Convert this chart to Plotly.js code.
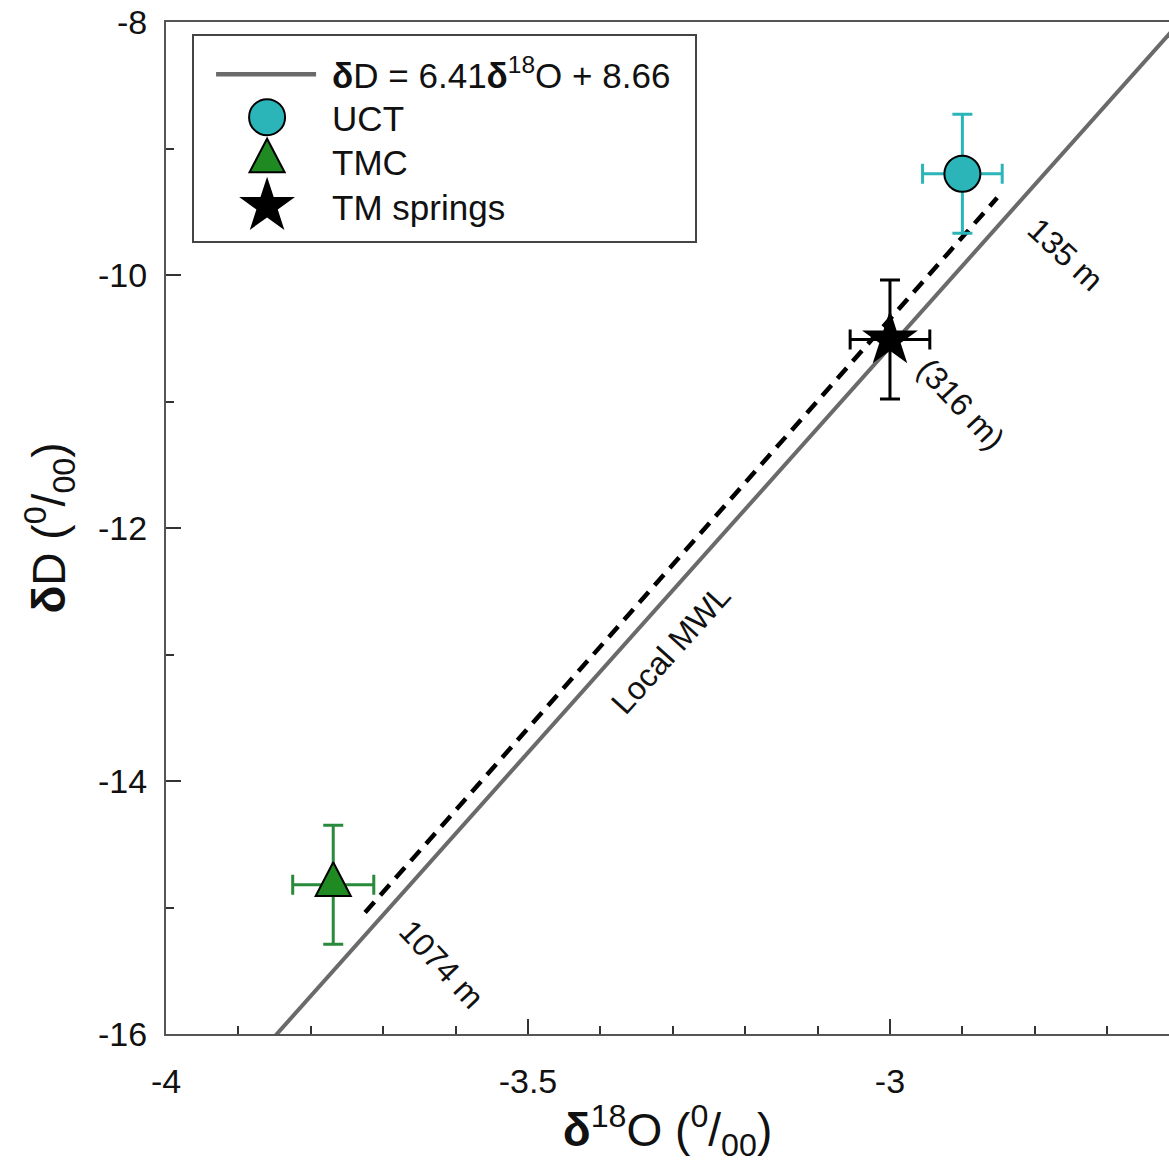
<!DOCTYPE html>
<html>
<head>
<meta charset="utf-8">
<script src="https://cdn.plot.ly/plotly-3.0.1.min.js"></script>
<style>
  html, body { margin: 0; padding: 0; background: #ffffff; }
  #chart { width: 1169px; height: 1163px; }
</style>
</head>
<body>
<div id="chart"></div>
<script>
// ---- data ----
const mwlX = [-3.85, -2.59];                 // local meteoric water line endpoints
const mwlY = [-16.02, -7.94];
const dashX = [-3.725, -2.852];              // dashed line
const dashY = [-15.04, -9.39];

const sampleNames = ['UCT', 'TMC', 'TM springs'];
const sampleX = [-2.9, -3.769, -3.0];
const sampleY = [-9.2, -14.82, -10.51];
const sampleXErr = [0.055, 0.056, 0.055];
const sampleYErr = [0.47, 0.47, 0.47];

const labelText = ['135 m', '(316 m)', '1074 m', 'Local MWL'];
const labelX = [-2.757, -2.902, -3.62, -3.302];
const labelY = [-9.84, -11.02, -15.45, -12.96];
const labelAngle = [43, 47, 47, -48];

const xTickVals = [-4, -3.5, -3];
const xTickText = ['-4', '-3.5', '-3'];
const yTickVals = [-16, -14, -12, -10, -8];
const yTickText = ['-16', '-14', '-12', '-10', '-8'];

const FONT = 'Liberation Sans, Arial, Helvetica, sans-serif';

const sampleStyle = [
  {symbol: 'circle', fill: '#2bb5b9', err: '#2bb5b9', size: 36},
  {symbol: 'triangle-up', fill: '#1f8a22', err: '#2a8a3c', size: 32},
  {symbol: 'star', fill: '#000000', err: '#000000', size: 42}
];

const traces = [];
traces.push({
  x: dashX, y: dashY, mode: 'lines', showlegend: false, hoverinfo: 'skip',
  line: {color: '#000000', width: 4.5, dash: '14px,9px'}
});
traces.push({
  x: mwlX, y: mwlY, mode: 'lines',
  name: '<b>δ</b>D = 6.41<b>δ</b><sup>18</sup>O + 8.66',
  line: {color: '#6a6a6a', width: 4}
});
for (let i = 0; i < sampleNames.length; i++) {
  const s = sampleStyle[i];
  traces.push({
    x: [sampleX[i]], y: [sampleY[i]], mode: 'markers', name: sampleNames[i],
    marker: {symbol: s.symbol, size: s.size, color: s.fill,
             line: {color: '#000000', width: i === 2 ? 0 : 2}},
    error_x: {type: 'data', array: [sampleXErr[i]], color: s.err, thickness: 3, width: 10},
    error_y: {type: 'data', array: [sampleYErr[i]], color: s.err, thickness: 3, width: 10}
  });
}

const annotations = labelText.map((t, i) => ({
  x: labelX[i], y: labelY[i], xref: 'x', yref: 'y', text: t, showarrow: false,
  textangle: labelAngle[i], font: {family: FONT, size: 32, color: '#111111'}
}));

const layout = {
  width: 1169, height: 1163,
  margin: {l: 166, r: 0, t: 22, b: 129},
  paper_bgcolor: '#ffffff', plot_bgcolor: '#ffffff',
  font: {family: FONT, color: '#111111'},
  showlegend: true,
  legend: {
    x: 0.026, y: 0.988, xanchor: 'left', yanchor: 'top',
    bgcolor: '#ffffff', bordercolor: '#444444', borderwidth: 2,
    font: {family: FONT, size: 35, color: '#111111'},
    itemwidth: 100, tracegroupgap: 0
  },
  xaxis: {
    range: [-4, -2.6146], tickmode: 'array', tickvals: xTickVals, ticktext: xTickText,
    ticks: 'inside', ticklen: 15, tickwidth: 2, tickcolor: '#333333',
    minor: {dtick: 0.1, tick0: -4, ticks: 'inside', ticklen: 8, tickwidth: 2, tickcolor: '#333333'},
    showgrid: false, zeroline: false, showline: true, linecolor: '#555555', linewidth: 2,
    mirror: true, automargin: false, ticklabelstandoff: 16,
    tickfont: {family: FONT, size: 34, color: '#111111'},
    title: {text: '<b>δ</b><sup>18</sup>O (<sup>0</sup>/<sub>00</sub>)', standoff: 16,
            font: {family: FONT, size: 46, color: '#111111'}}
  },
  yaxis: {
    range: [-16, -8], tickmode: 'array', tickvals: yTickVals, ticktext: yTickText,
    ticks: 'inside', ticklen: 15, tickwidth: 2, tickcolor: '#333333',
    minor: {dtick: 1, tick0: -16, ticks: 'inside', ticklen: 8, tickwidth: 2, tickcolor: '#333333'},
    showgrid: false, zeroline: false, showline: true, linecolor: '#555555', linewidth: 2,
    automargin: false, ticklabelstandoff: 10,
    tickfont: {family: FONT, size: 34, color: '#111111'},
    title: {text: '<b>δ</b>D (<sup>0</sup>/<sub>00</sub>)', standoff: 18,
            font: {family: FONT, size: 46, color: '#111111'}}
  },
  annotations: annotations
};

// legend layout tweaks (row offsets inside the legend box, in px)
const LEG_ROWS = [40, 83, 127, 172];
const LEG_W = 503, LEG_H = 207;

function parseTranslate(str) {
  const m = /translate\(\s*([-\d.eE]+)[ ,]+([-\d.eE]+)\s*\)/.exec(str || '');
  return m ? [parseFloat(m[1]), parseFloat(m[2])] : [0, 0];
}

Plotly.newPlot('chart', traces, layout, {staticPlot: true}).then(gd => {
  const leg = gd.querySelector('.legend');
  if (leg) {
    const items = leg.querySelectorAll('g.traces');
    const scales = [1, 36 / 16, 32 / 16, 42 / 16];
    items.forEach((g, i) => {
      const t = parseTranslate(g.getAttribute('transform'));
      if (LEG_ROWS[i] !== undefined) g.setAttribute('transform', 'translate(' + t[0] + ',' + LEG_ROWS[i] + ')');
      const lp = g.querySelector('.legendpoints');
      if (lp) lp.setAttribute('transform', 'translate(18,0)');
      const ll = g.querySelector('.legendlines');
      if (ll) ll.setAttribute('transform', 'translate(17,0)');
      g.querySelectorAll('.legendlines path').forEach(p => { p.style.strokeWidth = '4.5px'; });
      const tx = g.querySelector('text.legendtext');
      if (tx) tx.setAttribute('transform', 'translate(28,0)');
      g.querySelectorAll('path.scatterpts').forEach(p => {
        const tr = p.getAttribute('transform') || '';
        const sc = scales[i] || 2;
        const sy = (i === 2) ? sc * 1.4 : sc;
        const sx = (i === 2) ? sc * 0.95 : sc;
        p.setAttribute('transform', tr + ' scale(' + sx + ',' + sy + ')');
        p.setAttribute('vector-effect', 'non-scaling-stroke');
        p.style.vectorEffect = 'non-scaling-stroke';
      });
    });
    const bg = leg.querySelector('rect.bg');
    if (bg) { bg.setAttribute('width', LEG_W); bg.setAttribute('height', LEG_H); }
    leg.querySelectorAll('[clip-path]').forEach(el => el.removeAttribute('clip-path'));
  }
  // taller triangle like the original figure
  const tr = gd.querySelectorAll('.scatterlayer .trace');
  if (tr[3]) {
    tr[3].querySelectorAll('path.point').forEach(p => {
      p.setAttribute('transform', (p.getAttribute('transform') || '') + ' scale(0.95,1.4)');
      p.setAttribute('vector-effect', 'non-scaling-stroke');
      p.style.vectorEffect = 'non-scaling-stroke';
    });
  }
});
</script>
</body>
</html>
